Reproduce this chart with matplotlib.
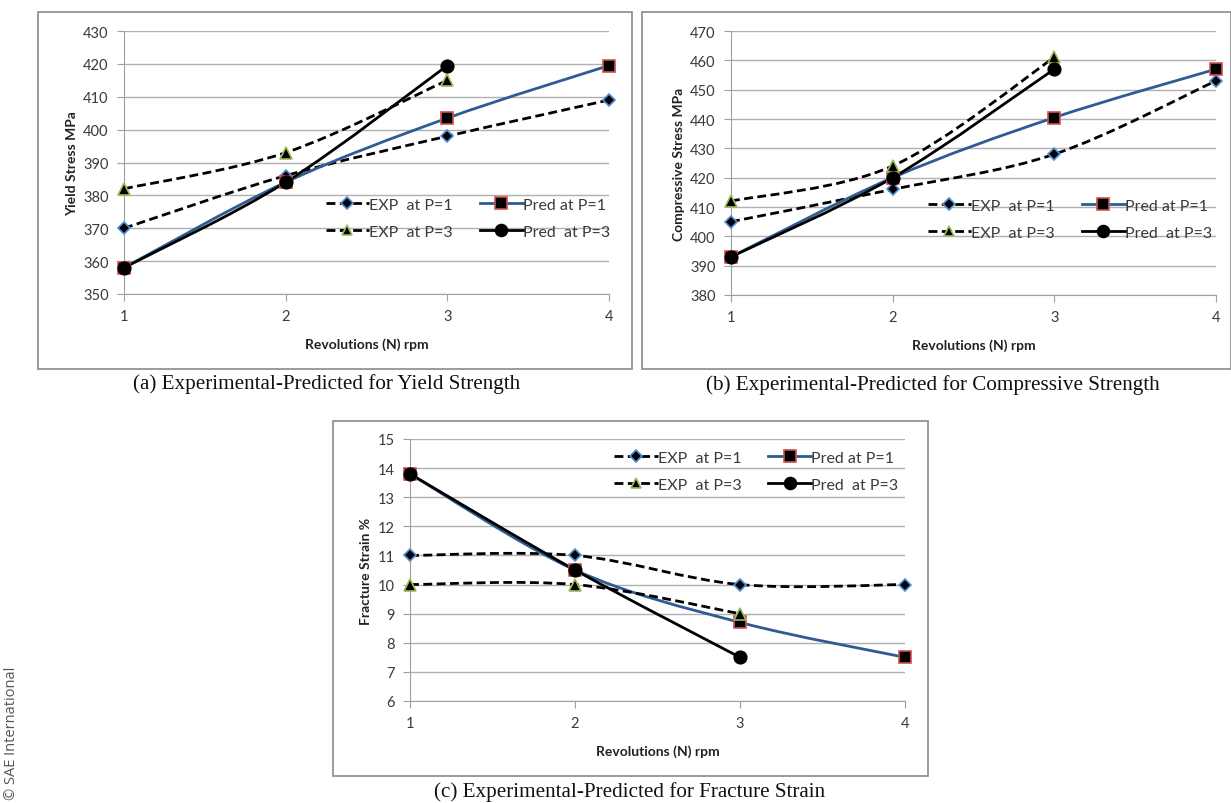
import numpy as np
import matplotlib
matplotlib.use("Agg")
import matplotlib.pyplot as plt
from matplotlib.path import Path
from matplotlib.patches import PathPatch, Rectangle
from matplotlib.lines import Line2D

plt.rcParams['font.family'] = ['Lato', 'DejaVu Sans']

W, H = 1231, 804

rev = [1, 2, 3, 4]
rev3 = [1, 2, 3]

# (a) yield strength, MPa
yield_exp_p1 = [370, 386, 398, 409]
yield_pred_p1 = [358, 384, 403.5, 419.5]
yield_exp_p3 = [382, 393, 415]
yield_pred_p3 = [358, 384, 419.5]

# (b) compressive strength, MPa
comp_exp_p1 = [405, 416, 428, 453]
comp_pred_p1 = [393, 420, 440.5, 457]
comp_exp_p3 = [412, 424, 461]
comp_pred_p3 = [393, 420, 457]

# (c) fracture strain, %
frac_exp_p1 = [11, 11, 10, 10]
frac_pred_p1 = [13.8, 10.5, 8.7, 7.5]
frac_exp_p3 = [10, 10, 9]
frac_pred_p3 = [13.8, 10.5, 7.5]

legend_labels = ['EXP  at P=1', 'Pred at P=1', 'EXP  at P=3', 'Pred  at P=3']

BLUE_LINE = '#2f5b94'
DIAMOND_EDGE = '#4f8fd6'
SQUARE_EDGE = '#d0504d'
TRI_EDGE = '#9bbb59'


def px(x0, y0, x1, y1):
    return [x0 / W, 1 - y1 / H, (x1 - x0) / W, (y1 - y0) / H]


# smoothed line like excel (bezier through the points)
def smooth_path(xs, ys):
    p = np.column_stack([xs, ys]).astype(float)
    n = len(p)
    verts = [p[0]]
    codes = [Path.MOVETO]
    for i in range(n - 1):
        prev = p[i - 1] if i > 0 else p[i]
        nxt = p[i + 2] if i + 2 < n else p[i + 1]
        c1 = p[i] + (p[i + 1] - prev) / 6
        c2 = p[i + 1] - (nxt - p[i]) / 6
        verts += [c1, c2, p[i + 1]]
        codes += [Path.CURVE4] * 3
    return Path(verts, codes)


styles = [
    dict(color='black', ls=(0, (3.2, 1.6)), marker='D', ms=6, mfc='black', mec=DIAMOND_EDGE),
    dict(color=BLUE_LINE, ls='-', marker='s', ms=8.5, mfc='black', mec=SQUARE_EDGE),
    dict(color='black', ls=(0, (3.2, 1.6)), marker='^', ms=8, mfc='black', mec=TRI_EDGE),
    dict(color='black', ls='-', marker='o', ms=9, mfc='black', mec='black'),
]


def draw_panel(rect, series, ylim, ystep, ylabel, leg_anchor):
    ax = fig.add_axes(px(*rect))
    for (xs, ys), st in zip(series, styles):
        ax.add_patch(PathPatch(smooth_path(xs, ys), fill=False, edgecolor=st['color'],
                               lw=2.0, ls=st['ls'], zorder=3))
        ax.plot(xs, ys, ls='none', marker=st['marker'], ms=st['ms'], mfc=st['mfc'],
                mec=st['mec'], mew=1.2, zorder=4, clip_on=False)
    ax.set_xlim(1, 4)
    ax.set_ylim(*ylim)
    ax.set_xticks(rev)
    ax.set_yticks(np.arange(ylim[0], ylim[1] + ystep / 2, ystep))
    ax.grid(axis='y', color='#b0b0b0', lw=1)
    ax.set_axisbelow(True)
    for s in ['top', 'right']:
        ax.spines[s].set_visible(False)
    ax.spines['left'].set_color('#a0a0a0')
    ax.spines['bottom'].set_color('#a0a0a0')
    ax.tick_params(colors='#a0a0a0', labelcolor='#3a3a3a', labelsize=10.5, length=5,
                   direction='out', pad=6)
    ax.set_xlabel('Revolutions (N) rpm', fontsize=10, fontweight='bold', color='#222222', labelpad=10)
    ax.set_ylabel(ylabel, fontsize=10, fontweight='bold', color='#222222', labelpad=4)
    handles = [Line2D([], [], color=st['color'], ls=st['ls'], lw=2.0, marker=st['marker'],
                      ms=st['ms'] * 0.95, mfc=st['mfc'], mec=st['mec'], mew=1.2) for st in styles]
    # legend fills by column, so put the EXP entries first
    order = [0, 2, 1, 3]
    ax.legend([handles[i] for i in order], [legend_labels[i] for i in order], ncol=2,
              frameon=False, loc='upper right', bbox_to_anchor=leg_anchor, fontsize=11.5,
              handlelength=2.7, handletextpad=0.0, columnspacing=1.7, labelspacing=0.8,
              borderaxespad=0, labelcolor='#3a3a3a')
    return ax


fig = plt.figure(figsize=(W / 100, H / 100), dpi=100)

# frames around panels
for x0, y0, x1, y1 in [(38, 13, 632, 370), (642, 13, 1231, 370), (333, 422, 928, 777)]:
    fig.patches.append(Rectangle((x0 / W, 1 - y1 / H), (x1 - x0) / W, (y1 - y0) / H,
                                 transform=fig.transFigure, fill=False, edgecolor='#8a8a8a', lw=1.2))

draw_panel((124, 32, 609, 295),
           [(rev, yield_exp_p1), (rev, yield_pred_p1), (rev3, yield_exp_p3), (rev3, yield_pred_p3)],
           (350, 430), 10, 'Yield Stress MPa', (1.015, 0.39))
draw_panel((731, 32, 1216, 296),
           [(rev, comp_exp_p1), (rev, comp_pred_p1), (rev3, comp_exp_p3), (rev3, comp_pred_p3)],
           (380, 470), 10, 'Compressive Stress MPa', (1.005, 0.39))
draw_panel((410, 440, 905, 702),
           [(rev, frac_exp_p1), (rev, frac_pred_p1), (rev3, frac_exp_p3), (rev3, frac_pred_p3)],
           (6, 15), 1, 'Fracture Strain %', (1.0, 0.98))

cap = dict(family=['Liberation Serif', 'DejaVu Serif'], fontsize=15.2, ha='center', va='center', color='#111111')
fig.text(327 / W, 1 - 384 / H, '(a) Experimental-Predicted for Yield Strength', **cap)
fig.text(933 / W, 1 - 385 / H, '(b) Experimental-Predicted for Compressive Strength', **cap)
fig.text(630 / W, 1 - 792 / H, '(c) Experimental-Predicted for Fracture Strain', **cap)

fig.text(12 / W, 1 - 733 / H, '© SAE International', rotation=90, ha='center', va='center',
         fontsize=10.5, color='#555555', family=['Open Sans', 'DejaVu Sans'])

fig.savefig('out.png', dpi=100)
